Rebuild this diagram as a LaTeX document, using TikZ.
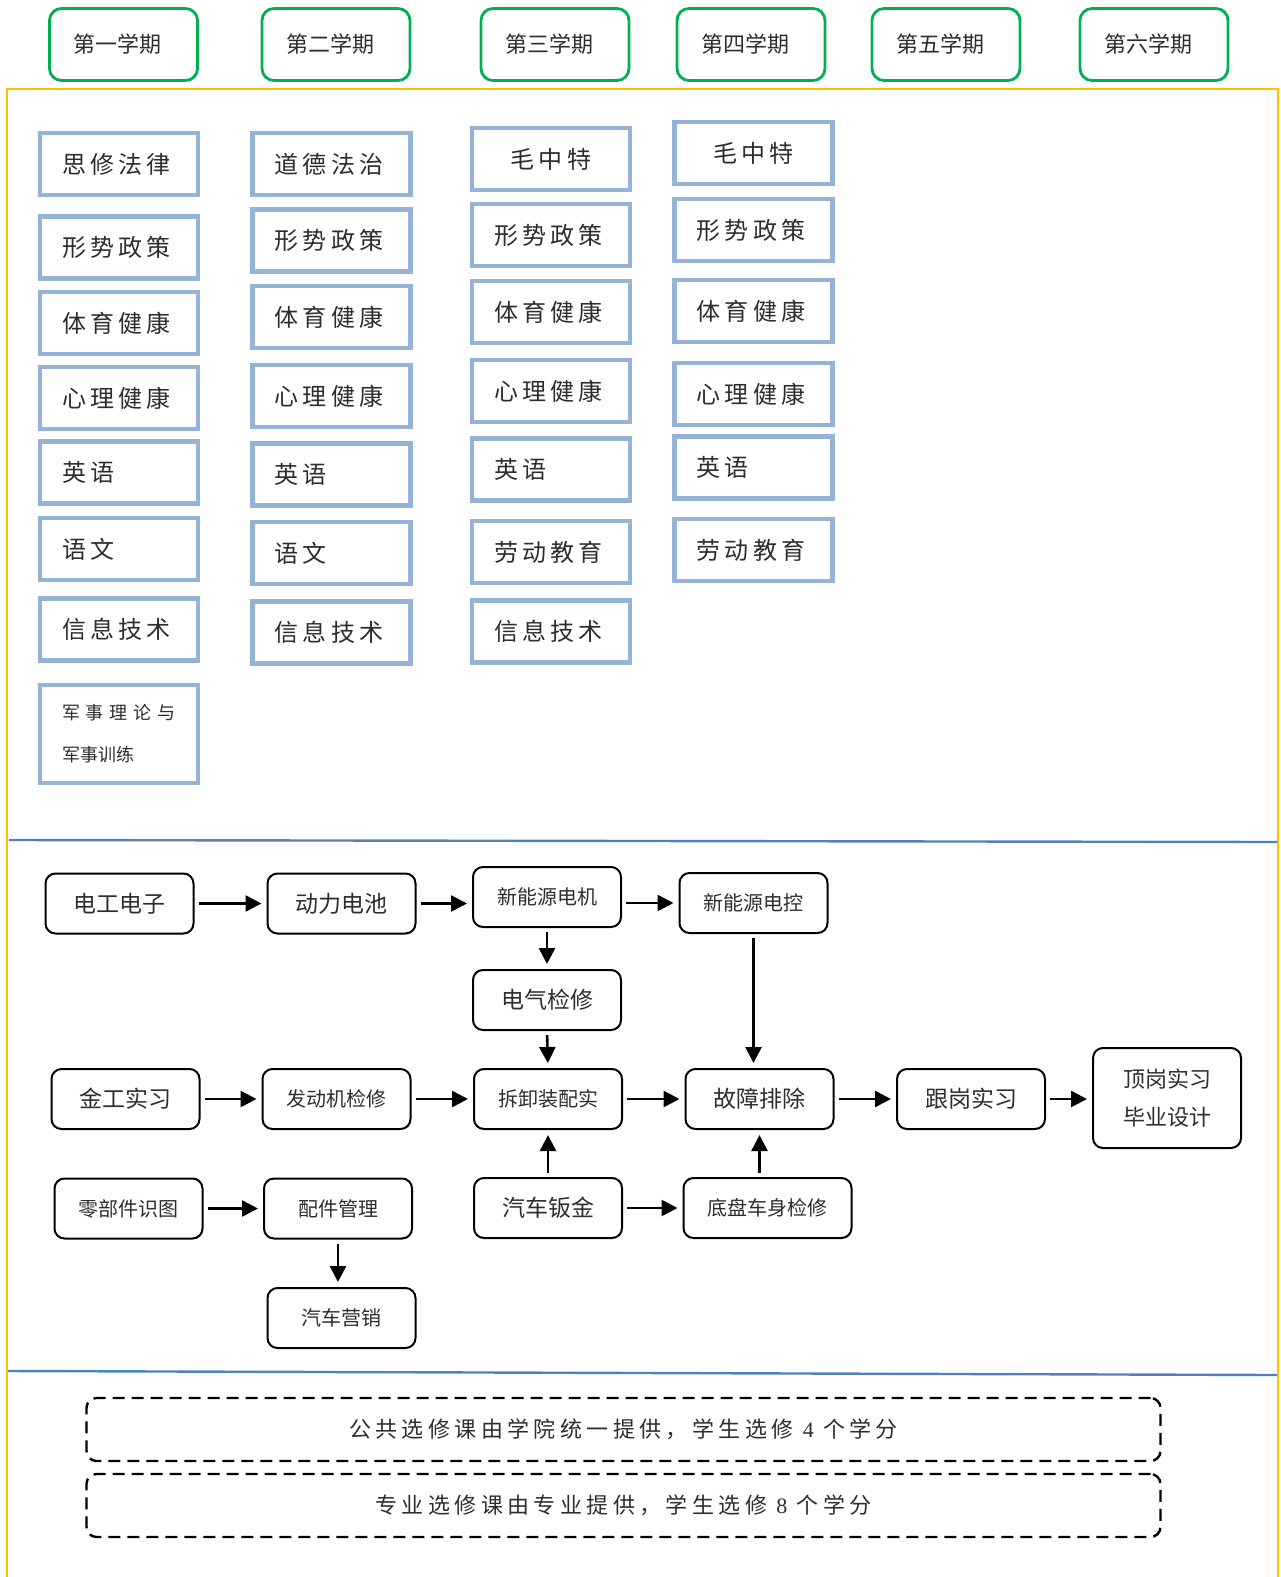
\documentclass[tikz,border=0pt]{standalone}
\usepackage{fontspec}
\setmainfont{Liberation Serif}
\newfontfamily\cjk{Noto Sans CJK SC}
\newfontfamily\cjksp[LetterSpace=18]{Noto Sans CJK SC}
\newfontfamily\cjkwide[LetterSpace=20]{Noto Sans CJK SC}
\usetikzlibrary{arrows.meta}
\definecolor{semgreen}{RGB}{0,176,80}
\definecolor{boxblue}{RGB}{149,179,215}
\definecolor{gold}{RGB}{255,192,0}
\definecolor{rulerblue}{RGB}{79,129,189}
\definecolor{ink}{RGB}{45,45,45}

\begin{document}
\begin{tikzpicture}[x=0.5pt, y=-0.5pt,
    sem/.style={draw=semgreen, line width=1.4pt, rounded corners=6pt,
        minimum width=74pt, minimum height=36pt,
        % text sits a bit left of centre
        inner xsep=12pt, text width=50pt, align=left,
        text=ink, font=\cjk\fontsize{11pt}{13pt}\selectfont},
    course/.style={draw=boxblue, line width=2.2pt,
        minimum width=79pt, minimum height=31pt,
        inner xsep=11pt, text width=57pt, align=left,
        text=ink, font=\cjksp\fontsize{12pt}{14pt}\selectfont},
    flow/.style={draw=black, line width=1pt, rounded corners=5pt,
        minimum width=74pt, minimum height=30pt,
        text=ink, font=\cjk\fontsize{11.5pt}{14pt}\selectfont},
    flowsm/.style={flow, font=\cjk\fontsize{10pt}{12pt}\selectfont},
    arr/.style={-{Triangle[length=8pt,width=8pt]}, line width=1.3pt,
        shorten <=2pt, shorten >=2.5pt},
    note/.style={draw=black, line width=1.2pt, dash pattern=on 6pt off 3.5pt,
        rounded corners=5pt, minimum width=537pt, minimum height=31.5pt,
        text=ink, font=\cjkwide\fontsize{11pt}{13pt}\selectfont},
    goldframe/.style={draw=gold, line width=1pt},
    divider/.style={draw=rulerblue, line width=1.2pt}
]
    \useasboundingbox (0,0) rectangle (1280,1577);

    % Frame and dividers
    \draw[goldframe] (7,1600) -- (7,89) -- (1278,89) -- (1278,1600);
    \draw[divider] (9,840) -- (1277,842);
    \draw[divider] (8,1371) -- (1277,1375);

    % Semesters
    \node[sem] (sa) at (123.5,44.5) {第一学期};
    \node[sem] (sb) at (336,44.5) {第二学期};
    \node[sem] (sc) at (555,44.5) {第三学期};
    \node[sem] (sd) at (751,44.5) {第四学期};
    \node[sem] (se) at (946,44.5) {第五学期};
    \node[sem] (sf) at (1154,44.5) {第六学期};

    % Public courses, semester 1
    \node[course] (a1) at (119,164) {思修法律};
    \node[course] (a2) at (119,247.5) {形势政策};
    \node[course] (a3) at (119,323) {体育健康};
    \node[course] (a4) at (119,398) {心理健康};
    \node[course] (a5) at (119,472.5) {英语};
    \node[course] (a6) at (119,549) {语文};
    \node[course] (a7) at (119,629.5) {信息技术};
    \node[course, minimum height=49pt, font=\cjk\fontsize{9pt}{21pt}\selectfont] (a8) at (119,734)
        {{\addfontfeature{LetterSpace=32}军事理论与}\\军事训练};

    % semester 2
    \node[course] (b1) at (331.5,164) {道德法治};
    \node[course] (b2) at (331.5,240.5) {形势政策};
    \node[course] (b3) at (331.5,317) {体育健康};
    \node[course] (b4) at (331.5,396) {心理健康};
    \node[course] (b5) at (331.5,474.5) {英语};
    \node[course] (b6) at (331.5,553) {语文};
    \node[course] (b7) at (331.5,632.5) {信息技术};

    % semester 3
    \node[course, align=center] (c1) at (551,159) {毛中特};
    \node[course] (c2) at (551,235) {形势政策};
    \node[course] (c3) at (551,312) {体育健康};
    \node[course] (c4) at (551,391) {心理健康};
    \node[course] (c5) at (551,469.5) {英语};
    \node[course] (c6) at (551,552) {劳动教育};
    \node[course] (c7) at (551,631.5) {信息技术};

    % semester 4
    \node[course, align=center] (d1) at (753.5,153) {毛中特};
    \node[course] (d2) at (753.5,230) {形势政策};
    \node[course] (d3) at (753.5,311) {体育健康};
    \node[course] (d4) at (753.5,394) {心理健康};
    \node[course] (d5) at (753.5,467.5) {英语};
    \node[course] (d6) at (753.5,550) {劳动教育};

    % Professional courses
    \node[flow] (elec) at (119.5,903.5) {电工电子};
    \node[flow] (batt) at (341.5,903.5) {动力电池};
    \node[flowsm] (motor) at (547,897) {新能源电机};
    \node[flowsm] (ectrl) at (753.5,903) {新能源电控};
    \node[flow] (erep) at (547,1000) {电气检修};
    \node[flowsm] (assem) at (548,1099) {拆卸装配实};
    \node[flow] (fault) at (759.5,1099) {故障排除};
    \node[flow] (follow) at (971,1099) {跟岗实习};
    \node[flow, minimum height=50pt, align=center, font=\cjk\fontsize{11pt}{19pt}\selectfont] (intern) at (1167,1098)
        {顶岗实习\\毕业设计};
    \node[flow] (metal) at (125.5,1099) {金工实习};
    \node[flowsm] (engine) at (336.5,1099) {发动机检修};
    \node[flowsm] (parts) at (128.5,1208.5) {零部件识图};
    \node[flowsm] (pmgmt) at (338,1208.5) {配件管理};
    \node[flowsm] (sales) at (341.5,1318) {汽车营销};
    \node[flow] (sheet) at (548,1208) {汽车钣金};
    \node[flowsm, minimum width=84pt] (chassis) at (767.5,1208) {底盘车身检修};

    \draw[arr] (elec.east) -- (batt.west);
    \draw[arr] (batt.east) -- (batt.east -| motor.west);
    \draw[arr] (motor.east |- ectrl.west) -- (ectrl.west);
    \draw[arr] (motor.south) -- (erep.north);
    \draw[arr] (erep.south) -- (assem.north);
    \draw[arr] (ectrl.south) -- (ectrl.south |- fault.north);
    \draw[arr] (metal.east) -- (engine.west);
    \draw[arr] (engine.east) -- (assem.west);
    \draw[arr] (assem.east) -- (fault.west);
    \draw[arr] (fault.east) -- (follow.west);
    \draw[arr] (follow.east) -- (follow.east -| intern.west);
    \draw[arr] (sheet.north) -- (assem.south);
    \draw[arr] (fault.south |- chassis.north) -- (fault.south);
    \draw[arr] (parts.east) -- (pmgmt.west);
    \draw[arr] (pmgmt.south) -- (pmgmt.south |- sales.north);
    \draw[arr] (sheet.east) -- (sheet.east -| chassis.west);

    % Electives
    \node[note] (pub) at (623.5,1429.5) {公共选修课由学院统一提供，学生选修 {\rmfamily 4} 个学分};
    \node[note] (maj) at (623.5,1505.5) {专业选修课由专业提供，学生选修 {\rmfamily 8} 个学分};
\end{tikzpicture}
\end{document}
